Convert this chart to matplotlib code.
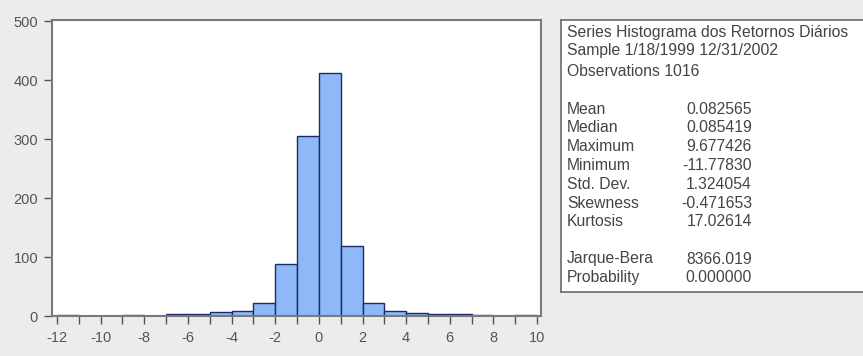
import matplotlib
matplotlib.use('Agg')
import matplotlib.pyplot as plt
from matplotlib.ticker import MultipleLocator, FixedLocator
import numpy as np

# histogram bins (left edges, width 1) and counts
bin_left = list(range(-12, 10))
counts = [2, 0, 0, 2, 0, 3, 3, 7, 9, 22, 88, 305, 412, 118, 22, 8, 5, 3, 3, 2, 0, 2]

x_ticks = list(range(-12, 11, 2))
y_ticks = [0, 100, 200, 300, 400, 500]

series_name = 'Histograma dos Retornos Diários'
sample = '1/18/1999 12/31/2002'
observations = 1016
stat_labels = ['Mean', 'Median', 'Maximum', 'Minimum', 'Std. Dev.', 'Skewness', 'Kurtosis']
stat_values = ['0.082565', '0.085419', '9.677426', '-11.77830', '1.324054', '-0.471653', '17.02614']
test_labels = ['Jarque-Bera', 'Probability']
test_values = ['8366.019', '0.000000']

plt.rcParams['font.family'] = ['Liberation Sans', 'DejaVu Sans']
plt.rcParams['axes.unicode_minus'] = False

W, H = 863, 356
fig = plt.figure(figsize=(W / 100, H / 100), dpi=100, facecolor='#ececec')


def fx(px):
    return px / W


def fy(py):
    return 1 - py / H


# histogram panel
ax = fig.add_axes([fx(52), fy(316), fx(541) - fx(52), fy(20) - fy(316)])
ax.set_facecolor('white')
ax.bar(bin_left, counts, width=1, align='edge', color='#8fb8f8',
       edgecolor='#1c2a66', linewidth=1.0)
ax.set_xlim(-12.23, 10.18)
ax.set_ylim(0, 502)
ax.xaxis.set_major_locator(FixedLocator(x_ticks))
ax.xaxis.set_minor_locator(MultipleLocator(1))
ax.set_yticks(y_ticks)
ax.tick_params(axis='both', which='both', direction='out', length=6, width=1,
               color='#555555', labelcolor='#555555', labelsize=10.5)
ax.tick_params(axis='x', pad=5)
ax.tick_params(axis='y', pad=4)
for s in ax.spines.values():
    s.set_color('#7a7a7a')
    s.set_linewidth(1.5)

# statistics panel
box = fig.add_axes([fx(561), fy(292), fx(870) - fx(561), fy(20) - fy(292)])
box.set_facecolor('white')
box.set_xticks([])
box.set_yticks([])
for s in box.spines.values():
    s.set_color('#6a6a6a')
    s.set_linewidth(1.2)

tc = '#444444'
fs = 11.3
lab_x, val_x = 567, 752
fig.text(fx(lab_x), fy(32), f'Series {series_name}', fontsize=fs, color=tc, va='center')
fig.text(fx(lab_x), fy(51), f'Sample {sample}', fontsize=fs, color=tc, va='center')
fig.text(fx(lab_x), fy(71), f'Observations {observations}', fontsize=fs, color=tc, va='center')

y = 109
for lab, val in zip(stat_labels, stat_values):
    fig.text(fx(lab_x), fy(y), lab, fontsize=fs, color=tc, va='center')
    fig.text(fx(val_x), fy(y), val, fontsize=fs, color=tc, va='center', ha='right')
    y += 18.8

y = 259
for lab, val in zip(test_labels, test_values):
    fig.text(fx(lab_x), fy(y), lab, fontsize=fs, color=tc, va='center')
    fig.text(fx(val_x), fy(y), val, fontsize=fs, color=tc, va='center', ha='right')
    y += 18.8

plt.savefig('out.png', dpi=100, facecolor=fig.get_facecolor())
